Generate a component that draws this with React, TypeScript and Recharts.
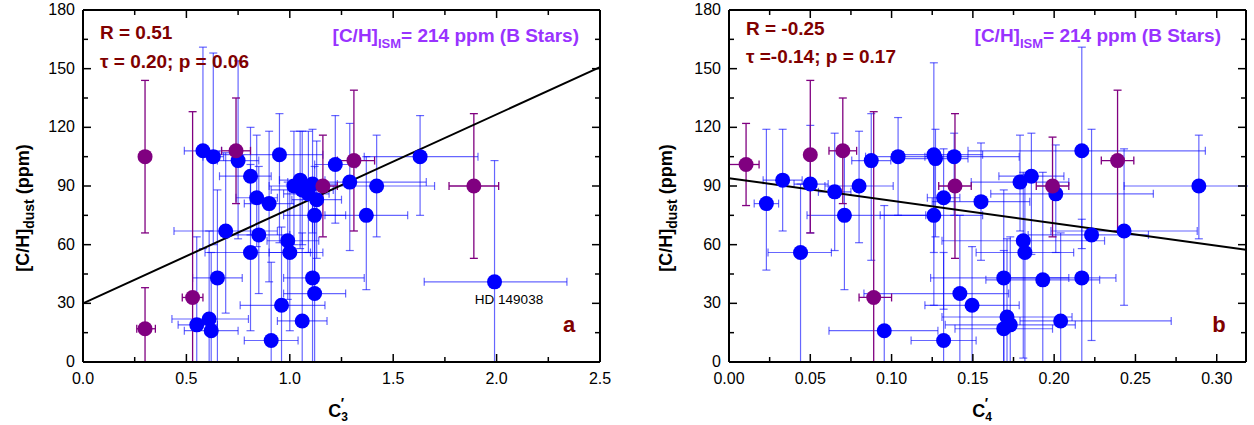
import { ScatterChart, Scatter, XAxis, YAxis, ErrorBar, ReferenceLine } from "recharts";

const FONT = "'Liberation Sans', Arial, sans-serif";
const BLUE = "#0000ff";
const PURPLE = "#800080";
const DARKRED = "#800000";
const VIOLET = "#9933ff";

// plot box size shared by both panels
const PW = 517;
const PH = 352;

// panel a: x = C3'
const c3Blue = [
  { x: 0.58, y: 108, ex: [0.09, 0.09], ey: [50, 53] },
  { x: 0.63, y: 105, ex: [0.05, 0.05], ey: [45, 53] },
  { x: 0.75, y: 103, ex: [0.1, 0.1], ey: [40, 51] },
  { x: 0.81, y: 95, ex: [0.15, 0.1], ey: [30, 25] },
  { x: 0.95, y: 106, ex: [0.29, 0.21], ey: [45, 21] },
  { x: 0.84, y: 84, ex: [0.1, 0.1], ey: [25, 32] },
  { x: 0.9, y: 81, ex: [0.12, 0.12], ey: [40, 37] },
  { x: 0.69, y: 67, ex: [0.25, 0.25], ey: [42, 40] },
  { x: 0.85, y: 65, ex: [0.15, 0.15], ey: [30, 35] },
  { x: 0.99, y: 62, ex: [0.1, 0.15], ey: [30, 30] },
  { x: 0.81, y: 56, ex: [0.22, 0.35], ey: [40, 45] },
  { x: 1.0, y: 56, ex: [0.1, 0.1], ey: [40, 35] },
  { x: 0.65, y: 43, ex: [0.12, 0.12], ey: [43, 45] },
  { x: 1.11, y: 43, ex: [0.14, 0.25], ey: [43, 40] },
  { x: 1.12, y: 35, ex: [0.15, 0.15], ey: [35, 40] },
  { x: 0.96, y: 29, ex: [0.2, 0.21], ey: [29, 40] },
  { x: 0.61, y: 22, ex: [0.18, 0.19], ey: [22, 45] },
  { x: 0.55, y: 19, ex: [0.09, 0.1], ey: [19, 45] },
  { x: 0.62, y: 16, ex: [0.13, 0.13], ey: [16, 40] },
  { x: 1.06, y: 21, ex: [0.12, 0.12], ey: [21, 45] },
  { x: 0.91, y: 11, ex: [0.13, 0.13], ey: [11, 40] },
  { x: 1.99, y: 41, ex: [0.34, 0.35], ey: [41, 62] },
  { x: 1.63, y: 105, ex: [0.27, 0.28], ey: [30, 21] },
  { x: 1.42, y: 90, ex: [0.25, 0.28], ey: [26, 26] },
  { x: 1.29, y: 92, ex: [0.3, 0.37], ey: [35, 30] },
  { x: 1.37, y: 75, ex: [0.2, 0.2], ey: [38, 30] },
  { x: 1.22, y: 101, ex: [0.1, 0.1], ey: [30, 25] },
  { x: 1.12, y: 75, ex: [0.15, 0.15], ey: [30, 25] },
  { x: 1.02, y: 90, ex: [0.12, 0.12], ey: [30, 28] },
  { x: 1.05, y: 93, ex: [0.1, 0.12], ey: [35, 25] },
  { x: 1.06, y: 88, ex: [0.15, 0.15], ey: [28, 30] },
  { x: 1.09, y: 86, ex: [0.12, 0.1], ey: [30, 32] },
  { x: 1.11, y: 91, ex: [0.1, 0.12], ey: [25, 28] },
  { x: 1.13, y: 83, ex: [0.12, 0.12], ey: [30, 30] },
];

const c3Purple = [
  { x: 0.3, y: 105, ex: [0, 0], ey: [39, 39] },
  { x: 0.3, y: 17, ex: [0.04, 0.05], ey: [17, 21] },
  { x: 0.53, y: 33, ex: [0.05, 0.05], ey: [33, 95] },
  { x: 0.74, y: 108, ex: [0.07, 0.07], ey: [27, 27] },
  { x: 1.16, y: 90, ex: [0.06, 0.07], ey: [26, 26] },
  { x: 1.31, y: 103, ex: [0.08, 0.1], ey: [36, 36] },
  { x: 1.89, y: 90, ex: [0.12, 0.12], ey: [37, 37] },
];

// panel b: x = C4'
const c4Blue = [
  { x: 0.023, y: 81, ex: [0.0075, 0.0075], ey: [34, 38] },
  { x: 0.033, y: 93, ex: [0.012, 0.012], ey: [26, 26] },
  { x: 0.05, y: 91, ex: [0.01, 0.011], ey: [25, 30] },
  { x: 0.044, y: 56, ex: [0.02, 0.019], ey: [56, 35] },
  { x: 0.065, y: 87, ex: [0.01, 0.01], ey: [30, 30] },
  { x: 0.071, y: 75, ex: [0.023, 0.05], ey: [38, 33] },
  { x: 0.08, y: 90, ex: [0.021, 0.021], ey: [29, 28] },
  { x: 0.0875, y: 103, ex: [0.012, 0.012], ey: [51, 24] },
  { x: 0.104, y: 105, ex: [0.02, 0.02], ey: [30, 20] },
  { x: 0.126, y: 106, ex: [0.02, 0.03], ey: [50, 47] },
  { x: 0.127, y: 104, ex: [0.02, 0.02], ey: [40, 15] },
  { x: 0.1385, y: 105, ex: [0.018, 0.04], ey: [30, 12] },
  { x: 0.126, y: 75, ex: [0.033, 0.03], ey: [46, 30] },
  { x: 0.132, y: 84, ex: [0.01, 0.01], ey: [57, 25] },
  { x: 0.0955, y: 16, ex: [0.034, 0.033], ey: [16, 64] },
  { x: 0.132, y: 11, ex: [0.02, 0.02], ey: [11, 45] },
  { x: 0.142, y: 35, ex: [0.059, 0.03], ey: [35, 40] },
  { x: 0.1495, y: 29, ex: [0.029, 0.029], ey: [29, 30] },
  { x: 0.155, y: 82, ex: [0.03, 0.03], ey: [30, 30] },
  { x: 0.217, y: 108, ex: [0.07, 0.076], ey: [50, 53] },
  { x: 0.186, y: 95, ex: [0.02, 0.02], ey: [40, 22] },
  { x: 0.179, y: 92, ex: [0.03, 0.03], ey: [25, 24] },
  { x: 0.289, y: 90, ex: [0.046, 0.05], ey: [27, 26] },
  { x: 0.201, y: 86, ex: [0.04, 0.06], ey: [30, 25] },
  { x: 0.223, y: 65, ex: [0.039, 0.035], ey: [54, 54] },
  { x: 0.243, y: 67, ex: [0.045, 0.045], ey: [38, 42] },
  { x: 0.181, y: 62, ex: [0.05, 0.05], ey: [60, 35] },
  { x: 0.182, y: 56, ex: [0.03, 0.03], ey: [56, 40] },
  { x: 0.169, y: 43, ex: [0.045, 0.04], ey: [43, 45] },
  { x: 0.193, y: 42, ex: [0.035, 0.035], ey: [42, 55] },
  { x: 0.217, y: 43, ex: [0.05, 0.021], ey: [43, 30] },
  { x: 0.171, y: 23, ex: [0.04, 0.04], ey: [23, 40] },
  { x: 0.173, y: 19, ex: [0.04, 0.04], ey: [19, 45] },
  { x: 0.169, y: 17, ex: [0.03, 0.03], ey: [17, 40] },
  { x: 0.204, y: 21, ex: [0.025, 0.068], ey: [21, 45] },
];

const c4Purple = [
  { x: 0.0105, y: 101, ex: [0.0105, 0.008], ey: [21, 21] },
  { x: 0.05, y: 106, ex: [0.002, 0.002], ey: [40, 38] },
  { x: 0.07, y: 108, ex: [0.0085, 0.0085], ey: [27, 27] },
  { x: 0.089, y: 33, ex: [0.009, 0.011], ey: [33, 95] },
  { x: 0.139, y: 90, ex: [0.01, 0.01], ey: [37, 37] },
  { x: 0.199, y: 90, ex: [0.01, 0.01], ey: [26, 25] },
  { x: 0.239, y: 103, ex: [0.01, 0.01], ey: [36, 36] },
];

// linear fits drawn in the paper
const c3Fit = [
  { x: 0, y: 30 },
  { x: 2.5, y: 150.8 },
];
const c4Fit = [
  { x: 0, y: 94 },
  { x: 0.318, y: 57.4 },
];

const yTicks = [0, 15, 30, 45, 60, 75, 90, 105, 120, 135, 150, 165, 180];
const c3Ticks = [0, 0.25, 0.5, 0.75, 1, 1.25, 1.5, 1.75, 2, 2.25, 2.5];
const c4Ticks = [0, 0.025, 0.05, 0.075, 0.1, 0.125, 0.15, 0.175, 0.2, 0.225, 0.25, 0.275, 0.3];

const isMajor = (v: number, step: number) => Math.abs(v / step - Math.round(v / step)) < 1e-6;

function BottomTick(props: any) {
  const { x, y, payload, step, digits } = props;
  const axisY = y - 10;
  const major = isMajor(payload.value, step);
  const len = major ? 8 : 5;
  return (
    <g>
      <line x1={x} x2={x} y1={axisY} y2={axisY - len} stroke="#000" strokeWidth={1.5} />
      <line x1={x} x2={x} y1={axisY - PH} y2={axisY - PH + len} stroke="#000" strokeWidth={1.5} />
      {major && (
        <text x={x} y={axisY + 22} textAnchor="middle" fontSize={16} fontFamily={FONT} fill="#000">
          {payload.value.toFixed(digits)}
        </text>
      )}
    </g>
  );
}

function LeftTick(props: any) {
  const { x, y, payload } = props;
  const axisX = x + 10;
  const major = isMajor(payload.value, 30);
  const len = major ? 8 : 5;
  return (
    <g>
      <line x1={axisX} x2={axisX + len} y1={y} y2={y} stroke="#000" strokeWidth={1.5} />
      <line x1={axisX + PW} x2={axisX + PW - len} y1={y} y2={y} stroke="#000" strokeWidth={1.5} />
      {major && (
        <text x={axisX - 8} y={y} dy={5} textAnchor="end" fontSize={16} fontFamily={FONT} fill="#000">
          {payload.value}
        </text>
      )}
    </g>
  );
}

const dot = (color: string) => (p: any) => <circle cx={p.cx} cy={p.cy} r={7.5} fill={color} />;

function Panel(props: any) {
  const { blue, purple, fit, xTicks, xMax, step, digits, left, width } = props;
  return (
    <div style={{ position: "absolute", left: left, top: 0, width: width, height: 425, overflow: "hidden" }}>
      <ScatterChart width={width} height={425} margin={props.margin}>
        <XAxis
          type="number"
          dataKey="x"
          domain={[0, xMax]}
          allowDataOverflow
          ticks={xTicks}
          interval={0}
          height={30}
          tickSize={8}
          tickMargin={2}
          tickLine={false}
          axisLine={{ stroke: "#000", strokeWidth: 2 }}
          tick={(p: any) => <BottomTick {...p} step={step} digits={digits} />}
        />
        <YAxis
          type="number"
          dataKey="y"
          domain={[0, 180]}
          allowDataOverflow
          ticks={yTicks}
          interval={0}
          width={50}
          tickSize={8}
          tickMargin={2}
          tickLine={false}
          axisLine={{ stroke: "#000", strokeWidth: 2 }}
          tick={(p: any) => <LeftTick {...p} />}
        />
        <Scatter data={blue} isAnimationActive={false} shape={dot(BLUE)}>
          <ErrorBar dataKey="ey" direction="y" width={4} stroke={BLUE} strokeOpacity={0.6} strokeWidth={1.2} />
          <ErrorBar dataKey="ex" direction="x" width={4} stroke={BLUE} strokeOpacity={0.6} strokeWidth={1.2} />
        </Scatter>
        <Scatter data={purple} isAnimationActive={false} shape={dot(PURPLE)}>
          <ErrorBar dataKey="ey" direction="y" width={4} stroke={PURPLE} strokeWidth={1.3} />
          <ErrorBar dataKey="ex" direction="x" width={4} stroke={PURPLE} strokeWidth={1.3} />
        </Scatter>
        <ReferenceLine segment={fit} stroke="#000" strokeWidth={2} />
        <ReferenceLine y={180} stroke="#000" strokeWidth={2} />
        <ReferenceLine x={xMax} stroke="#000" strokeWidth={2} />
      </ScatterChart>
    </div>
  );
}

function Overlay() {
  const bold = { fontFamily: FONT, fontWeight: 700 } as const;
  const yLabel = (x: number) => (
    <text transform={`translate(${x},208) rotate(-90)`} textAnchor="middle" fontSize={18} {...bold} fill="#000">
      [C/H]
      <tspan fontSize={14} dy={5}>dust</tspan>
      <tspan dy={-5}> (ppm)</tspan>
    </text>
  );
  const xLabel = (x: number, sub: string) => (
    <text x={x} y={417} textAnchor="middle" fontSize={18} {...bold} fill="#000">
      C<tspan fontSize={12} dy={4}>{sub}</tspan>
      <tspan fontSize={14} dx={-7} dy={-13}>′</tspan>
    </text>
  );
  const ism = (x: number) => (
    <text x={x} y={42} textAnchor="end" fontSize={19} {...bold} fill={VIOLET}>
      [C/H]<tspan fontSize={13} dy={6}>ISM</tspan>
      <tspan dy={-6}>= 214 ppm (B Stars)</tspan>
    </text>
  );
  return (
    <svg width={1254} height={425} style={{ position: "absolute", left: 0, top: 0, pointerEvents: "none" }}>
      {yLabel(29)}
      {yLabel(672)}
      {xLabel(338, "3")}
      {xLabel(982, "4")}
      <text x={100} y={39} fontSize={19} {...bold} fill={DARKRED}>R = 0.51</text>
      <text x={100} y={68} fontSize={19} {...bold} fill={DARKRED}>τ = 0.20; p = 0.06</text>
      {ism(579)}
      <text x={746} y={35} fontSize={19} {...bold} fill={DARKRED}>R = -0.25</text>
      <text x={746} y={63} fontSize={19} {...bold} fill={DARKRED}>τ =-0.14; p = 0.17</text>
      {ism(1221)}
      <text x={569} y={332} textAnchor="middle" fontSize={22} {...bold} fill={DARKRED}>a</text>
      <text x={1219} y={332} textAnchor="middle" fontSize={22} {...bold} fill={DARKRED}>b</text>
      <text x={509} y={304} textAnchor="middle" fontSize={13.5} fontFamily={FONT} fill="#000">HD 149038</text>
    </svg>
  );
}

export default function App() {
  return (
    <div style={{ position: "absolute", left: 0, top: 0, width: 1254, height: 425, background: "#fff" }}>
      <Panel
        left={0}
        width={627}
        blue={c3Blue}
        purple={c3Purple}
        fit={c3Fit}
        xTicks={c3Ticks}
        xMax={2.5}
        step={0.5}
        digits={1}
        margin={{ top: 10, right: 27, bottom: 33, left: 33 }}
      />
      <Panel
        left={627}
        width={621}
        blue={c4Blue}
        purple={c4Purple}
        fit={c4Fit}
        xTicks={c4Ticks}
        xMax={0.318}
        step={0.05}
        digits={2}
        margin={{ top: 10, right: 2, bottom: 33, left: 52 }}
      />
      <Overlay />
    </div>
  );
}
